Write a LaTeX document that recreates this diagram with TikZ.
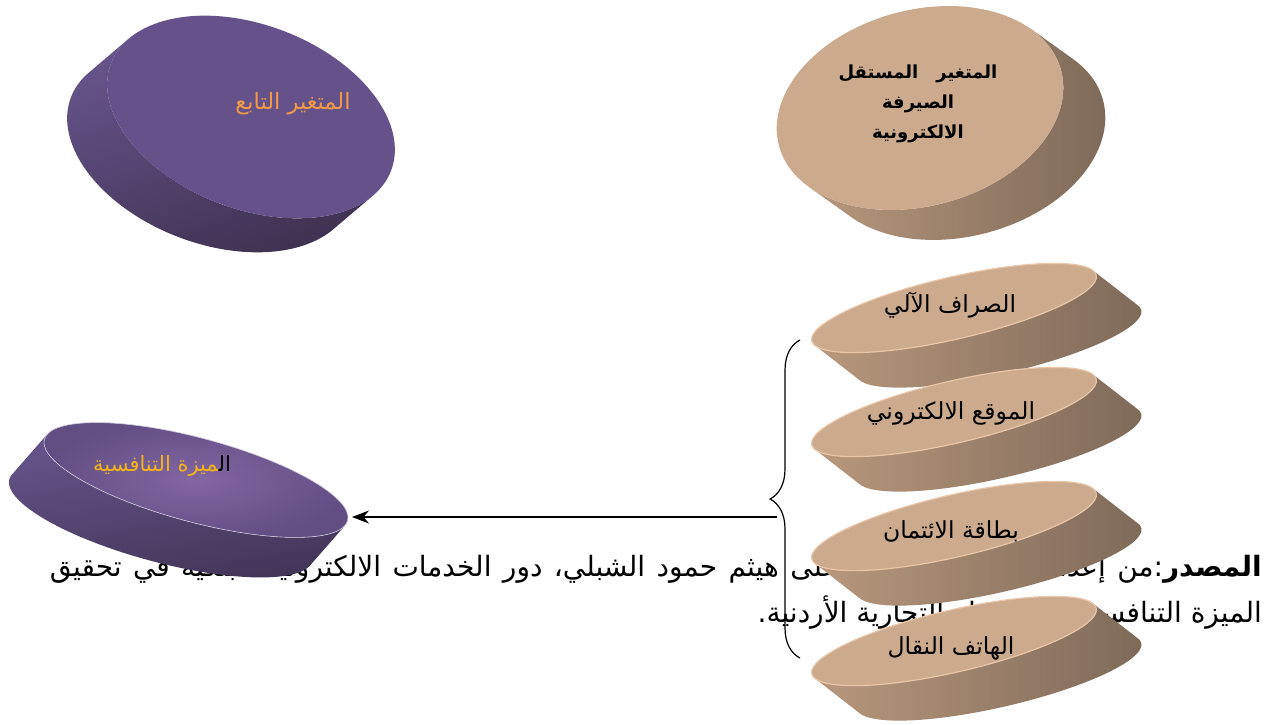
\documentclass[tikz,border=0pt]{standalone}
\usepackage{fontspec}
\usetikzlibrary{decorations.pathreplacing,arrows.meta}
\TeXXeTstate=1
\newfontfamily\arfont[Script=Arabic]{DejaVu Sans}
\definecolor{tantop}{HTML}{CCAA8E}
\definecolor{tanrim}{HTML}{E9C6A8}
\definecolor{tanlight}{HTML}{B8987D}
\definecolor{tandark}{HTML}{7F6A59}
\definecolor{purptop}{HTML}{66528A}
\definecolor{purplight}{HTML}{65548A}
\definecolor{purpdark}{HTML}{3F3252}
\definecolor{purpcenter}{HTML}{8366A2}
\definecolor{orangetxt}{HTML}{F39A45}
\definecolor{goldtxt}{HTML}{F2B418}
\newcommand\mydisk[9]{%
 \pgfmathsetmacro\dxl{(#6)*cos(#5)+(#7)*sin(#5)}%
 \pgfmathsetmacro\dyl{-(#6)*sin(#5)+(#7)*cos(#5)}%
 \pgfmathsetmacro\ta{atan2(-(#4)*\dxl,(#3)*\dyl)}%
 \pgfmathsetmacro\tb{\ta+180}%
 \pgfmathsetmacro\tc{\ta+\tb}%
 \path[#8] plot[domain=\ta:\tb,samples=90,variable=\q] ({(#1)+(#3)*cos(\q)*cos(#5)-(#4)*sin(\q)*sin(#5)},{(#2)+(#3)*cos(\q)*sin(#5)+(#4)*sin(\q)*cos(#5)}) -- plot[domain=\ta:\tb,samples=90,variable=\q] ({(#1)+(#6)+(#3)*cos(\tc-\q)*cos(#5)-(#4)*sin(\tc-\q)*sin(#5)},{(#2)+(#7)+(#3)*cos(\tc-\q)*sin(#5)+(#4)*sin(\tc-\q)*cos(#5)}) -- cycle;%
 \path[#9, rotate around={-(#5):(#1,#2)}] (#1,#2) ellipse[x radius=#3, y radius=#4];%
}
\tikzset{
 tanside/.style={left color=tanlight, right color=tandark},
 tanface/.style={fill=tantop, draw=tanrim, line width=1.2pt},
 disklabel/.style={font=\arfont\fontsize{23.5}{28}\selectfont, text=black, inner sep=0pt},
 srcline/.style={font=\arfont\fontsize{28}{32}\selectfont, text=black, inner sep=0pt, anchor=base east},
 conn/.style={line width=1.5pt, -{Stealth[length=17pt,width=13pt]}},
 bracestyle/.style={line width=1.2pt, decorate, decoration={brace, amplitude=30pt}}
}
\begin{document}
\begin{tikzpicture}[x=1pt,y=-1pt]
\fill[white] (0,0) rectangle (1276,724);
\useasboundingbox (0,0) rectangle (1276,724);
% source text (drawn first, disks cover parts of it)
\node[srcline] (src1) at (1262,576) {\hbox to 1212pt{\beginR\textbf{المصدر}:من إعداد الباحث بالاعتماد على هيثم حمود الشبلي، دور الخدمات الالكترونية البنكية في تحقيق\endR}};
\node[srcline] (src2) at (1262,622) {\beginR الميزة التنافسية في البنوك التجارية الأردنية.\endR};
% big purple disk
\mydisk{251}{117}{150}{92}{21}{-40}{34}{left color=purplight, right color=purpdark, shading angle=20}{fill=purptop}
\node[font=\arfont\fontsize{22.5}{26}\selectfont, text=orangetxt, inner sep=0pt] (dep) at (293,104) {\beginR المتغير التابع\endR};
% big tan disk
\mydisk{920}{108}{146}{98}{-15}{42}{30}{left color=tanlight, right color=tandark}{fill=tantop}
\node[font=\arfont\bfseries\fontsize{18}{30}\selectfont, text=black, align=center, inner sep=0pt] (indep) at (918,104) {\beginR المتغير\enspace\enspace المستقل\endR\\\beginR الصيرفة\endR\\\beginR الالكترونية\endR};
% four tilted tan disks
\mydisk{954}{308}{146}{31}{-13}{45}{35}{tanside}{tanface}
\node[disklabel] (atm) at (950,305) {\beginR الصراف الآلي\endR};
\mydisk{954}{412}{146}{31}{-13}{45}{35}{tanside}{tanface}
\node[disklabel] (web) at (951,413) {\beginR الموقع الالكتروني\endR};
\mydisk{954}{526}{146}{31}{-13}{45}{35}{tanside}{tanface}
\node[disklabel] (card) at (951,531) {\beginR بطاقة الائتمان\endR};
\mydisk{954}{641}{146}{31}{-13}{45}{35}{tanside}{tanface}
\node[disklabel] (mobile) at (951,648) {\beginR الهاتف النقال\endR};
% small purple disk
\mydisk{196}{480}{157}{42}{15}{-35}{40}{left color=purplight, right color=purpdark!90!purptop, shading angle=10}{inner color=purpcenter, outer color=purptop!95!black, draw=white!70!purptop, line width=0.6pt}
\node[disklabel, font=\arfont\fontsize{21}{25}\selectfont] (comp) at (162,466) {\textcolor{goldtxt}{\beginR\char"200Dميزة التنافسية\endR}\textcolor{black}{\beginR ال\char"200D\endR}};
% brace and arrow
\coordinate (bt) at (800,658);
\coordinate (bb) at (800,340);
\draw[bracestyle] (bt) -- (bb);
\coordinate (barpt) at (777,517);
\coordinate (comptip) at (352,517);
\draw[conn] (barpt) -- (comptip);
\end{tikzpicture}
\end{document}
